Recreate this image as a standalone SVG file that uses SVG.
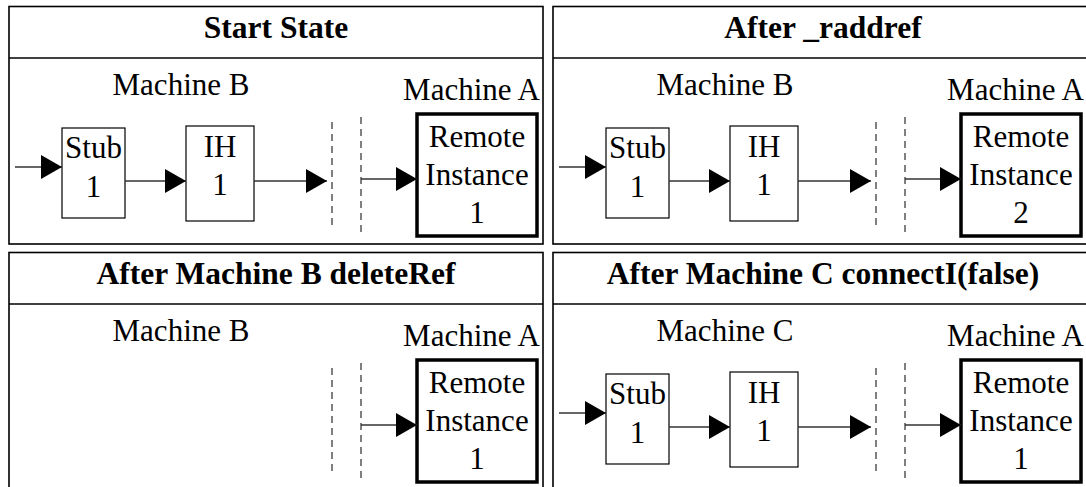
<svg xmlns="http://www.w3.org/2000/svg" width="1086" height="487" viewBox="0 0 1086 487">
<style>
.panel{fill:#fff;stroke:#000;stroke-width:1.6}
.hdr{stroke:#000;stroke-width:1.6}
.title{font-family:"Liberation Serif",serif;font-weight:bold;font-size:31.5px;text-anchor:middle;fill:#000}
.lbl{font-family:"Liberation Serif",serif;font-size:31px;fill:#000}
.c{text-anchor:middle}
.e{text-anchor:end}
.box{fill:#fff;stroke:#000;stroke-width:1.2}
.rbox{fill:#fff;stroke:#000;stroke-width:3.5}
.conn{stroke:#333;stroke-width:1.3;fill:none;marker-end:url(#ah)}
.dash{stroke:#000;stroke-width:1;stroke-dasharray:7,5}
</style>
<defs>
<marker id="ah" markerUnits="userSpaceOnUse" markerWidth="22" markerHeight="24" refX="21" refY="12" orient="auto" viewBox="0 0 22 24">
<path d="M0,0 L21,12 L0,24 z" fill="#000"/>
</marker>
</defs>

<g id="panel-start">
<rect class="panel" x="9" y="6.5" width="534" height="237.5"/>
<line class="hdr" x1="9" y1="58" x2="543" y2="58"/>
<text class="title" x="276" y="38">Start State</text>
<text class="lbl c" x="181" y="95">Machine B</text>
<text class="lbl e" x="540" y="100">Machine A</text>
</g>
<g id="panel-raddref">
<rect class="panel" x="553" y="6.5" width="540" height="237.5"/>
<line class="hdr" x1="553" y1="58" x2="1093" y2="58"/>
<text class="title" x="823" y="38">After _raddref</text>
<text class="lbl c" x="725" y="95">Machine B</text>
<text class="lbl e" x="1084" y="100">Machine A</text>
</g>
<g id="panel-delete">
<rect class="panel" x="9" y="252.5" width="534" height="240"/>
<line class="hdr" x1="9" y1="304" x2="543" y2="304"/>
<text class="title" x="276" y="284">After Machine B deleteRef</text>
<text class="lbl c" x="181" y="341">Machine B</text>
<text class="lbl e" x="540" y="346">Machine A</text>
</g>
<g id="panel-connect">
<rect class="panel" x="553" y="252.5" width="540" height="240"/>
<line class="hdr" x1="553" y1="304" x2="1093" y2="304"/>
<text class="title" x="823" y="284">After Machine C connectI(false)</text>
<text class="lbl c" x="725" y="341">Machine C</text>
<text class="lbl e" x="1084" y="346">Machine A</text>
</g>

<g id="p1-stub"><rect class="box" x="62" y="128" width="63" height="90"/><text class="lbl c" x="93.5" y="158">Stub</text><text class="lbl c" x="93.5" y="197">1</text></g>
<g id="p1-ih"><rect class="box" x="186" y="126" width="68" height="95"/><text class="lbl c" x="220" y="157">IH</text><text class="lbl c" x="220" y="195">1</text></g>
<g id="p1-remote"><rect class="rbox" x="417" y="114" width="120" height="122"/><text class="lbl c" x="477" y="147">Remote</text><text class="lbl c" x="477" y="185">Instance</text><text class="lbl c" x="477" y="223">1</text></g>

<g id="p2-stub"><rect class="box" x="606" y="128" width="63" height="90"/><text class="lbl c" x="637.5" y="158">Stub</text><text class="lbl c" x="637.5" y="197">1</text></g>
<g id="p2-ih"><rect class="box" x="730" y="126" width="68" height="95"/><text class="lbl c" x="764" y="157">IH</text><text class="lbl c" x="764" y="195">1</text></g>
<g id="p2-remote"><rect class="rbox" x="961" y="114" width="120" height="122"/><text class="lbl c" x="1021" y="147">Remote</text><text class="lbl c" x="1021" y="185">Instance</text><text class="lbl c" x="1021" y="223">2</text></g>

<g id="p3-remote"><rect class="rbox" x="417" y="360" width="120" height="122"/><text class="lbl c" x="477" y="393">Remote</text><text class="lbl c" x="477" y="431">Instance</text><text class="lbl c" x="477" y="469">1</text></g>

<g id="p4-stub"><rect class="box" x="606" y="374" width="63" height="90"/><text class="lbl c" x="637.5" y="404">Stub</text><text class="lbl c" x="637.5" y="443">1</text></g>
<g id="p4-ih"><rect class="box" x="730" y="372" width="68" height="95"/><text class="lbl c" x="764" y="403">IH</text><text class="lbl c" x="764" y="441">1</text></g>
<g id="p4-remote"><rect class="rbox" x="961" y="360" width="120" height="122"/><text class="lbl c" x="1021" y="393">Remote</text><text class="lbl c" x="1021" y="431">Instance</text><text class="lbl c" x="1021" y="469">1</text></g>

<g id="connectors">
<line class="conn" x1="15" y1="167" x2="62" y2="167"/>
<line class="conn" x1="125" y1="181" x2="186" y2="181"/>
<line class="conn" x1="254" y1="181" x2="327" y2="181"/>
<line class="dash" x1="332" y1="122" x2="332" y2="227"/>
<line class="dash" x1="361" y1="117" x2="361" y2="237"/>
<line class="conn" x1="361" y1="179" x2="417" y2="179"/>

<line class="conn" x1="559" y1="167" x2="606" y2="167"/>
<line class="conn" x1="669" y1="181" x2="730" y2="181"/>
<line class="conn" x1="798" y1="181" x2="871" y2="181"/>
<line class="dash" x1="876" y1="122" x2="876" y2="227"/>
<line class="dash" x1="905" y1="117" x2="905" y2="237"/>
<line class="conn" x1="905" y1="179" x2="961" y2="179"/>

<line class="dash" x1="332" y1="368" x2="332" y2="473"/>
<line class="dash" x1="361" y1="363" x2="361" y2="483"/>
<line class="conn" x1="361" y1="425" x2="417" y2="425"/>

<line class="conn" x1="559" y1="413" x2="606" y2="413"/>
<line class="conn" x1="669" y1="427" x2="730" y2="427"/>
<line class="conn" x1="798" y1="427" x2="871" y2="427"/>
<line class="dash" x1="876" y1="368" x2="876" y2="473"/>
<line class="dash" x1="905" y1="363" x2="905" y2="483"/>
<line class="conn" x1="905" y1="425" x2="961" y2="425"/>
</g>
</svg>
